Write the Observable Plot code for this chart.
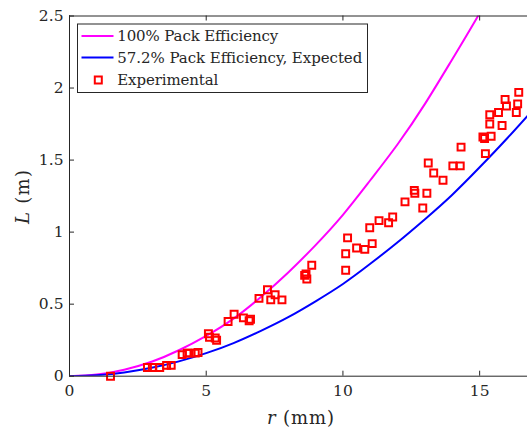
<!DOCTYPE html>
<html>
<head>
<meta charset="utf-8">
<script src="https://cdn.jsdelivr.net/npm/d3@7"></script>
<script src="https://cdn.jsdelivr.net/npm/@observablehq/plot@0.6"></script>
<style>
  html, body { margin: 0; padding: 0; background: #fff; }
  svg { display: block; }
</style>
</head>
<body>
<div id="chart"></div>
<script>
// Theoretical curves (r in mm, L in m)
const curveR        = [0, 1, 2, 3, 4, 5, 6, 7, 8, 9, 10, 11, 12, 13, 14, 15, 16, 17];
const fullEffL      = [0, 0.011, 0.045, 0.10, 0.18, 0.28, 0.40, 0.55, 0.72, 0.91, 1.12, 1.36, 1.61, 1.89, 2.20, 2.52, 2.87, 3.24];
const expectedL     = [0, 0.0064, 0.026, 0.058, 0.103, 0.16, 0.23, 0.315, 0.41, 0.52, 0.64, 0.78, 0.93, 1.09, 1.26, 1.45, 1.65, 1.86];

// Experimental points
const expR = [1.5, 2.85, 3.03, 3.3, 3.55, 3.72, 4.12, 4.3, 4.38, 4.6, 4.7,
  5.08, 5.12, 5.33, 5.38, 5.8, 6.02, 6.36, 6.57, 6.62, 6.93, 7.24, 7.36, 7.52, 7.77,
  8.6, 8.65, 8.68, 8.86, 10.1, 10.1, 10.17, 10.5, 10.8, 11.07, 10.98, 11.32, 11.67, 11.82,
  12.27, 12.61, 12.63, 12.92, 13.07, 13.12, 13.32, 13.66, 14.02, 14.29, 14.32,
  15.12, 15.18, 15.21, 15.37, 15.37, 15.42, 15.69, 15.82, 15.93, 15.98, 16.34, 16.39, 16.43];
const expL = [0.0, 0.06, 0.06, 0.06, 0.075, 0.075, 0.15, 0.16, 0.16, 0.16, 0.165,
  0.295, 0.27, 0.265, 0.25, 0.38, 0.43, 0.405, 0.385, 0.395, 0.54, 0.60, 0.53, 0.565, 0.53,
  0.70, 0.71, 0.675, 0.77, 0.735, 0.85, 0.96, 0.89, 0.88, 0.92, 1.03, 1.08, 1.065, 1.105,
  1.21, 1.29, 1.27, 1.167, 1.27, 1.48, 1.41, 1.36, 1.46, 1.46, 1.59,
  1.66, 1.65, 1.545, 1.75, 1.815, 1.665, 1.83, 1.74, 1.92, 1.875, 1.83, 1.89, 1.97];

const xTicks = [0, 5, 10, 15];
const xTickLabels = ["0", "5", "10", "15"];
const yTicks = [0, 0.5, 1, 1.5, 2, 2.5];
const yTickLabels = ["0", "0.5", "1", "1.5", "2", "2.5"];
const seriesNames = ["100% Pack Efficiency", "57.2% Pack Efficiency, Expected", "Experimental"];

const curves = curveR.map((r, i) => ({r, full: fullEffL[i], expected: expectedL[i]}));
const points = expR.map((r, i) => ({r, L: expL[i]}));

const W = 527, H = 432;
const mL = 69, mR = 0, mT = 15.5, mB = 56.3;
const plotH = H - mT - mB, plotW = W - mL - mR;
const axisColor = "#262626";
const font = "DejaVu Serif";

const svg = Plot.plot({
  width: W, height: H,
  marginLeft: mL, marginRight: mR, marginTop: mT, marginBottom: mB,
  style: {fontFamily: font, fontSize: "15.5px", color: axisColor, background: "white"},
  x: {domain: [0, 16.75]},
  y: {domain: [0, 2.5]},
  marks: [
    Plot.line(curves, {x: "r", y: "full", stroke: "#ff00ff", strokeWidth: 2, curve: "natural", clip: true}),
    Plot.line(curves, {x: "r", y: "expected", stroke: "#0000ff", strokeWidth: 2, curve: "natural", clip: true}),
    Plot.dot(points, {x: "r", y: "L", symbol: "square", r: 3.9, stroke: "#ff0000", strokeWidth: 2, fill: "none"}),
    // spines
    Plot.ruleY([0, 2.5], {stroke: axisColor, strokeWidth: 1}),
    Plot.ruleX([0], {stroke: axisColor, strokeWidth: 1}),
    // inward ticks
    Plot.tickX(xTicks, {x: d => d, insetTop: plotH - 5, stroke: axisColor}),
    Plot.tickX(xTicks, {x: d => d, insetBottom: plotH - 5, stroke: axisColor}),
    Plot.tickY(yTicks, {y: d => d, insetRight: plotW - 5, stroke: axisColor}),
    // tick labels
    Plot.axisX({ticks: xTicks, tickFormat: d => xTickLabels[xTicks.indexOf(d)], tickSize: 0, tickPadding: 9, label: null, fill: axisColor}),
    Plot.axisY({ticks: yTicks, tickFormat: d => yTickLabels[yTicks.indexOf(d)], tickSize: 0, tickPadding: 6, label: null, fill: axisColor})
  ]
});

const s = d3.select(svg);
// axis labels
const xl = s.append("text")
  .attr("x", 300.5).attr("y", 424)
  .attr("text-anchor", "middle")
  .attr("font-family", font).attr("font-size", 18).attr("fill", axisColor)
  .attr("textLength", 67).attr("lengthAdjust", "spacing");
xl.append("tspan").attr("font-style", "italic").text("r");
xl.append("tspan").text(" (mm)");

const yl = s.append("text")
  .attr("transform", "translate(28.5,197) rotate(-90)")
  .attr("text-anchor", "middle")
  .attr("font-family", font).attr("font-size", 18).attr("fill", axisColor)
  .attr("textLength", 54).attr("lengthAdjust", "spacing");
yl.append("tspan").attr("font-style", "italic").text("L");
yl.append("tspan").text(" (m)");

// legend
const lg = s.append("g");
lg.append("rect").attr("x", 77.5).attr("y", 24).attr("width", 290).attr("height", 68.5)
  .attr("fill", "white").attr("stroke", axisColor).attr("stroke-width", 1);
const rowsY = [36, 57.5, 80];
const textW = [161, 245, 101];
lg.append("line").attr("x1", 81.5).attr("x2", 113.5).attr("y1", rowsY[0]).attr("y2", rowsY[0])
  .attr("stroke", "#ff00ff").attr("stroke-width", 2);
lg.append("line").attr("x1", 81.5).attr("x2", 113.5).attr("y1", rowsY[1]).attr("y2", rowsY[1])
  .attr("stroke", "#0000ff").attr("stroke-width", 2);
lg.append("rect").attr("x", 98.3 - 3.5).attr("y", rowsY[2] - 3.5).attr("width", 7).attr("height", 7)
  .attr("fill", "none").attr("stroke", "#ff0000").attr("stroke-width", 2);
seriesNames.forEach((name, i) => {
  lg.append("text").attr("x", 117.3).attr("y", rowsY[i]).attr("dy", "0.36em")
    .attr("text-anchor", "start")
    .attr("font-family", font).attr("font-size", 15).attr("fill", axisColor)
    .attr("textLength", textW[i]).attr("lengthAdjust", "spacing")
    .text(name);
});

document.getElementById("chart").appendChild(svg);
</script>
</body>
</html>
